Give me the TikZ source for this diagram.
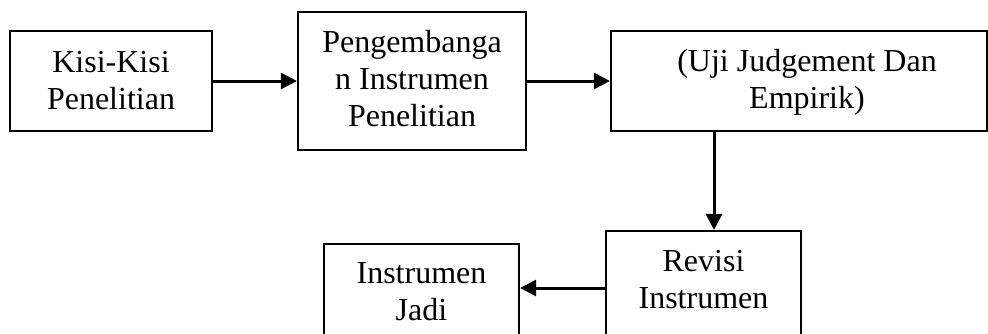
\documentclass[tikz,border=0pt]{standalone}
\usepackage{fontspec}
\setmainfont{Liberation Serif}
\usetikzlibrary{arrows.meta}
\begin{document}
\begin{tikzpicture}[x=1pt,y=-1pt,
  box/.style={draw, line width=2.2pt, rectangle, inner sep=0pt},
  txt/.style={align=center, anchor=base, inner sep=0pt, font=\fontsize{32}{37}\selectfont},
  arr/.style={line width=3pt, -{Triangle[length=16pt,width=16pt]}}]
\useasboundingbox (0,0) rectangle (988,333);
\clip (0,0) rectangle (988,333);
\node[box, minimum width=202, minimum height=100] (b1) at (111,81) {};
\node[box, minimum width=228, minimum height=138] (b2) at (412,81) {};
\node[box, minimum width=376, minimum height=100] (b3) at (799,81) {};
\node[box, minimum width=195, minimum height=114] (b4) at (703.5,288) {};
\node[box, minimum width=195, minimum height=112] (b5) at (421.5,300) {};
\node[txt] (t1) at (111,109) {Kisi-Kisi\\Penelitian};
\node[txt] (t2) at (412,126) {Pengembanga\\n Instrumen\\Penelitian};
\node[txt] (t3) at (807,108) {(Uji Judgement Dan\\Empirik)};
\node[txt] (t4) at (703.5,308) {Revisi\\Instrumen};
\node[txt] (t5) at (421.5,320) {Instrumen\\Jadi};
\coordinate (d) at (714,131);
\draw[arr] (b1.east) -- (b2.west);
\draw[arr] (b2.east) -- (b3.west);
\draw[arr] (b3.south -| d) -- (b4.north -| d);
\draw[arr] (b4.west) -- (b5.east |- b4.west);
\end{tikzpicture}
\end{document}
